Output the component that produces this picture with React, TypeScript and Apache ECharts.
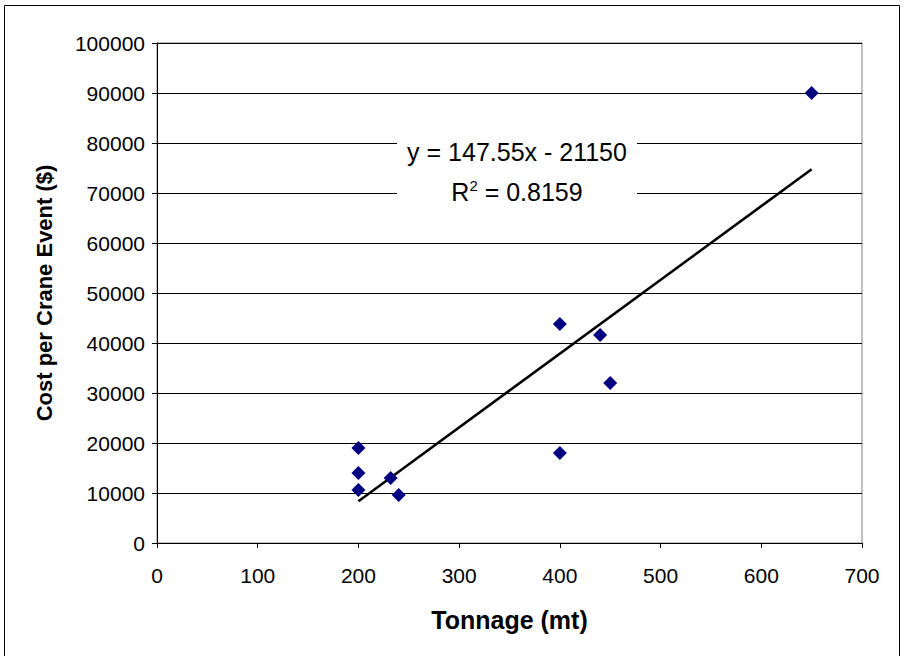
import React, { useEffect, useRef } from "react";
import * as echarts from "echarts";

const tonnage = [200, 200, 200, 232, 240, 400, 400, 440, 450, 650];
const cost = [19000, 14000, 10600, 13000, 9600, 43800, 18000, 41600, 32000, 90000];
const trendSlope = 147.55;
const trendIntercept = -21150;
const trendRange = [200, 650];
const xTicks = [0, 100, 200, 300, 400, 500, 600, 700];
const yTicks = [0, 10000, 20000, 30000, 40000, 50000, 60000, 70000, 80000, 90000, 100000];
const equationText = "y = 147.55x - 21150";
const rSquaredText = " = 0.8159";

const FONT = "Liberation Sans, Arial, sans-serif";

export default function App() {
  const ref = useRef<HTMLDivElement>(null);
  useEffect(() => {
    if (!ref.current) return;
    const chart = echarts.init(ref.current, undefined, { renderer: "svg" });
    const pts = tonnage.map((x, i) => [x, cost[i]]);
    const trend = trendRange.map((x) => [x, trendSlope * x + trendIntercept]);
    chart.setOption({
      animation: false,
      backgroundColor: "#ffffff",
      grid: { left: 157, top: 43, width: 705, height: 500, show: true, borderColor: "#808080", borderWidth: 1, backgroundColor: "transparent" },
      xAxis: {
        type: "value",
        min: xTicks[0],
        max: xTicks[xTicks.length - 1],
        interval: 100,
        name: "Tonnage (mt)",
        nameLocation: "middle",
        nameGap: 64,
        nameTextStyle: { fontFamily: FONT, fontSize: 25, fontWeight: "bold", color: "#000" },
        axisLine: { onZero: false, lineStyle: { color: "#000", width: 1 } },
        axisTick: { show: true, length: 5, lineStyle: { color: "#000" } },
        axisLabel: { fontFamily: FONT, fontSize: 21, color: "#000", margin: 22, formatter: (v: number) => String(v) },
        splitLine: { show: false },
      },
      yAxis: {
        type: "value",
        min: yTicks[0],
        max: yTicks[yTicks.length - 1],
        interval: 10000,
        name: "Cost per Crane Event ($)",
        nameLocation: "middle",
        nameGap: 102,
        nameTextStyle: { fontFamily: FONT, fontSize: 22, fontWeight: "bold", color: "#000" },
        axisLine: { onZero: false, lineStyle: { color: "#000", width: 1 } },
        axisTick: { show: true, length: 5, lineStyle: { color: "#000" } },
        axisLabel: { fontFamily: FONT, fontSize: 21, color: "#000", margin: 12, formatter: (v: number) => String(v) },
        splitLine: { show: true, lineStyle: { color: "#000", width: 1 } },
      },
      series: [
        {
          type: "line",
          data: trend,
          showSymbol: false,
          symbol: "none",
          lineStyle: { color: "#000", width: 2.5 },
          z: 3,
        },
        {
          type: "scatter",
          data: pts,
          symbol: "diamond",
          symbolSize: [14, 14],
          itemStyle: { color: "#000080", opacity: 1 },
          z: 4,
        },
      ],
      graphic: [
        {
          type: "rect",
          shape: { x: 4.5, y: 5.5, width: 895, height: 660 },
          style: { fill: "none", stroke: "#000", lineWidth: 1 },
          silent: true,
          z: 0,
        },
        {
          type: "rect",
          shape: { x: 397, y: 131, width: 240, height: 80 },
          style: { fill: "#fff" },
          silent: true,
          z: 9,
        },
        {
          type: "text",
          x: 517,
          y: 152,
          z: 10,
          style: {
            text: equationText,
            fontFamily: FONT,
            fontSize: 25,
            fill: "#000",
            align: "center",
            verticalAlign: "middle",
          },
        },
        {
          type: "text",
          x: 517,
          y: 192,
          z: 10,
          style: {
            text: "{r|R}{s|2}{r|" + rSquaredText + "}",
            fontFamily: FONT,
            fontSize: 25,
            fill: "#000",
            align: "center",
            verticalAlign: "middle",
            rich: {
              r: { fontFamily: FONT, fontSize: 25, fill: "#000", lineHeight: 28 },
              s: { fontFamily: FONT, fontSize: 15, fill: "#000", lineHeight: 10, verticalAlign: "top" },
            },
          },
        },
      ],
    });
    return () => chart.dispose();
  }, []);
  return <div ref={ref} style={{ position: "absolute", left: 0, top: 0, width: 904, height: 656 }} />;
}
